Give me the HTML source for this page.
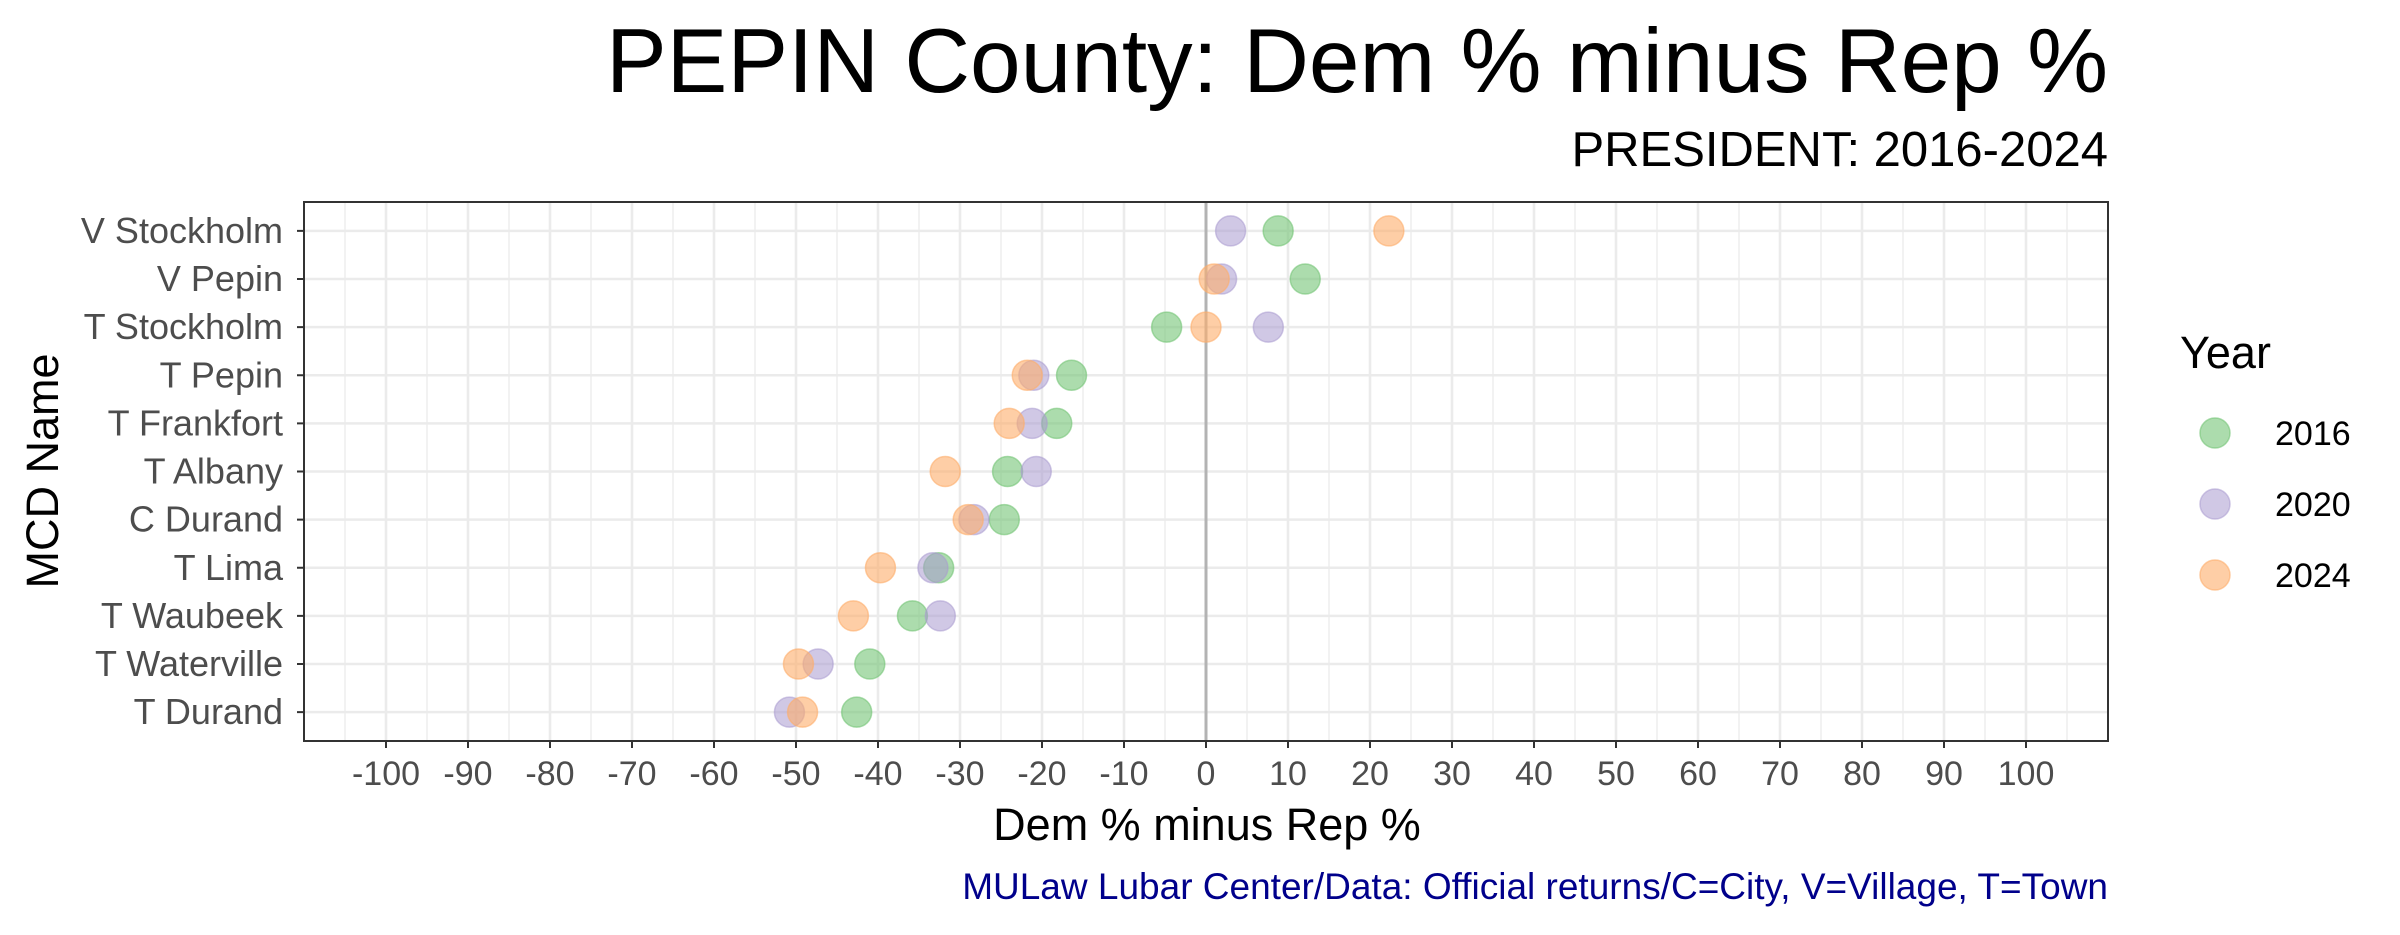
<!DOCTYPE html>
<html><head><meta charset="utf-8">
<style>
body{margin:0;background:#fff;}
svg text{font-family:"Liberation Sans",Arial,sans-serif;}
</style></head>
<body>
<svg id="chart" width="2400" height="930" viewBox="0 0 2400 930" xmlns="http://www.w3.org/2000/svg">
<text x="2108" y="92" font-size="91" text-anchor="end" fill="#000">PEPIN County: Dem % minus Rep %</text>
<text x="2108" y="166" font-size="49" text-anchor="end" fill="#000">PRESIDENT: 2016-2024</text>
<g id="grid"></g>
<g id="points"></g>
<rect x="304" y="202" width="1804" height="539" fill="none" stroke="#333" stroke-width="2"/>
<g id="axes"></g>
<text x="1207" y="840" font-size="45" text-anchor="middle" fill="#000">Dem % minus Rep %</text>
<text transform="translate(58,471) rotate(-90)" font-size="45" text-anchor="middle" fill="#000">MCD Name</text>
<text x="2108" y="899" font-size="37" text-anchor="end" fill="#00008B">MULaw Lubar Center/Data: Official returns/C=City, V=Village, T=Town</text>
<g id="legend"></g>
</svg>
<script>
const categories = ["V Stockholm","V Pepin","T Stockholm","T Pepin","T Frankfort","T Albany","C Durand","T Lima","T Waubeek","T Waterville","T Durand"];
const years = ["2016","2020","2024"];
const values2016 = [8.8,12.1,-4.8,-16.4,-18.2,-24.2,-24.6,-32.6,-35.8,-41.0,-42.6];
const values2020 = [3.0,1.9,7.6,-21.0,-21.2,-20.7,-28.3,-33.3,-32.4,-47.3,-50.8];
const values2024 = [22.3,1.0,0.0,-21.8,-24.0,-31.8,-29.0,-39.7,-43.0,-49.7,-49.2];
const xTicks = [-100,-90,-80,-70,-60,-50,-40,-30,-20,-10,0,10,20,30,40,50,60,70,80,90,100];

const NS="http://www.w3.org/2000/svg";
const L=304,R=2108,T=202,B=741;
const xMin=-110,xMax=110;
function xs(v){return L+(v-xMin)/(xMax-xMin)*(R-L);}
const step=(B-T)/(categories.length-1+1.2);
function ys(i){return T+0.6*step+i*step;}
function mk(tag,attrs,parent){const e=document.createElementNS(NS,tag);for(const k in attrs)e.setAttribute(k,attrs[k]);parent.appendChild(e);return e;}
const grid=document.getElementById('grid'),axes=document.getElementById('axes'),pts=document.getElementById('points'),leg=document.getElementById('legend');
for(let v=-105;v<=105;v+=10){const e=mk('line',{x1:xs(v),x2:xs(v),y1:T,y2:B,stroke:'#ebebeb','stroke-width':1.3},grid);

}
xTicks.forEach(v=>{const e=mk('line',{x1:xs(v),x2:xs(v),y1:T,y2:B,stroke:'#ebebeb','stroke-width':2.6},grid);


const t=mk('line',{x1:xs(v),x2:xs(v),y1:B,y2:B+7,stroke:'#333','stroke-width':2},axes);


const lb=mk('text',{x:xs(v),y:B+44,'font-size':34,'text-anchor':'middle',fill:'#4d4d4d'},axes);lb.textContent=v;

});
categories.forEach((c,i)=>{const e=mk('line',{x1:L,x2:R,y1:ys(i),y2:ys(i),stroke:'#ebebeb','stroke-width':2.6},grid);


const t=mk('line',{x1:L-7,x2:L,y1:ys(i),y2:ys(i),stroke:'#333','stroke-width':2},axes);


const lb=mk('text',{x:L-21,y:ys(i)+12,'font-size':36,'text-anchor':'end',fill:'#4d4d4d'},axes);lb.textContent=c;

});
const z=mk('line',{x1:xs(0),x2:xs(0),y1:T,y2:B,stroke:'#b3b3b3','stroke-width':3},grid);


const series=[values2016,values2020,values2024];
const fills=['#74c476','#a99ad0','#fdae6b'];
const ops=[0.6,0.55,0.6];
series.forEach((s,k)=>{s.forEach((v,i)=>{const c=mk('circle',{cx:xs(v),cy:ys(i),r:15,fill:fills[k],'fill-opacity':ops[k],stroke:fills[k],'stroke-opacity':ops[k],'stroke-width':1.5},pts);

});});
const lt=mk('text',{x:2180,y:368,'font-size':45,fill:'#000'},leg);lt.textContent='Year';


years.forEach((y,k)=>{const cy=433+k*71;
const c=mk('circle',{cx:2215,cy:cy,r:15,fill:fills[k],'fill-opacity':ops[k],stroke:fills[k],'stroke-opacity':ops[k],'stroke-width':1.5},leg);


const t=mk('text',{x:2275,y:cy+12,'font-size':34,fill:'#000'},leg);t.textContent=y;

});
</script>
</body></html>
